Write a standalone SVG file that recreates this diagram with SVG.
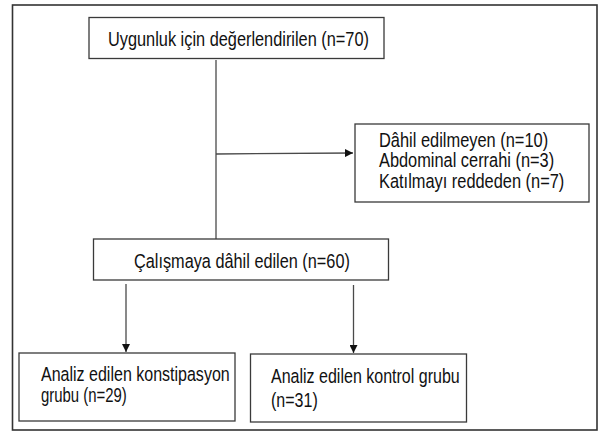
<svg xmlns="http://www.w3.org/2000/svg" width="598" height="431" viewBox="0 0 598 431">
<defs>
<style>
.box{fill:#fff;stroke:#3a3a3a;stroke-width:1.3}
.ln{fill:none;stroke:#4a4a4a;stroke-width:1.3}
text{font-family:"Liberation Sans",Arial,sans-serif;font-size:19.5px;fill:#111}
</style>
<marker id="ah" viewBox="0 0 10 10" refX="10" refY="5" markerWidth="8" markerHeight="8" markerUnits="userSpaceOnUse" orient="auto">
<path d="M0,0 L10,5 L0,10 z" fill="#111"/>
</marker>
</defs>
<rect x="0" y="0" width="598" height="431" fill="#fff"/>
<rect x="12.5" y="5" width="584.5" height="425" fill="none" stroke="#333" stroke-width="1.6"/>
<g id="connectors">
<line class="ln" x1="216" y1="60" x2="216" y2="239"/>
<line class="ln" x1="216" y1="154" x2="353" y2="153" marker-end="url(#ah)"/>
<line class="ln" x1="126" y1="284" x2="126" y2="352" marker-end="url(#ah)"/>
<line class="ln" x1="353.5" y1="285" x2="353.5" y2="353" marker-end="url(#ah)"/>
</g>
<g id="n1">
<rect class="box" x="89" y="17.5" width="295" height="41"/>
<text transform="translate(108,46) scale(0.85,1)" textLength="307" lengthAdjust="spacingAndGlyphs">Uygunluk için değerlendirilen (n=70)</text>
</g>
<g id="n2">
<rect class="box" x="355" y="124" width="234" height="78"/>
<text transform="translate(379,147) scale(0.85,1)" textLength="199" lengthAdjust="spacingAndGlyphs">Dâhil edilmeyen (n=10)</text>
<text transform="translate(379,167) scale(0.85,1)" textLength="206" lengthAdjust="spacingAndGlyphs">Abdominal cerrahi (n=3)</text>
<text transform="translate(379,188) scale(0.85,1)" textLength="218" lengthAdjust="spacingAndGlyphs">Katılmayı reddeden (n=7)</text>
</g>
<g id="n3">
<rect class="box" x="93.5" y="239" width="295" height="41"/>
<text transform="translate(134,268) scale(0.85,1)" textLength="254" lengthAdjust="spacingAndGlyphs">Çalışmaya dâhil edilen (n=60)</text>
</g>
<g id="n4">
<rect class="box" x="19" y="353" width="216" height="68"/>
<text transform="translate(41,381) scale(0.85,1)" textLength="222" lengthAdjust="spacingAndGlyphs">Analiz edilen konstipasyon</text>
<text transform="translate(41,402) scale(0.85,1)" textLength="101" lengthAdjust="spacingAndGlyphs">grubu (n=29)</text>
</g>
<g id="n5">
<rect class="box" x="250.5" y="354" width="216" height="68"/>
<text transform="translate(271,383) scale(0.85,1)" textLength="222" lengthAdjust="spacingAndGlyphs">Analiz edilen kontrol grubu</text>
<text transform="translate(271,407) scale(0.85,1)" textLength="55" lengthAdjust="spacingAndGlyphs">(n=31)</text>
</g>
</svg>
